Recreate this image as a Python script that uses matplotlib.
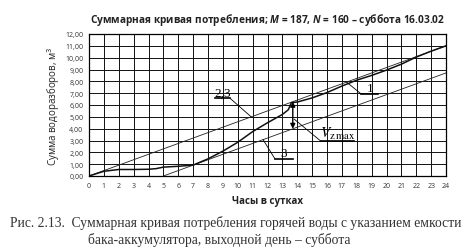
import matplotlib
matplotlib.use("Agg")
import matplotlib.pyplot as plt
import numpy as np

# hours of the day and cumulative draw-off, m3 (curve 1)
hours = [0, 1, 2, 3, 4, 4.5, 5, 6, 7, 8, 9, 10, 11, 12, 13, 13.4, 13.6,
         14, 15, 16, 17, 18, 19, 20, 21, 22, 23, 24]
total = [0, 0.4, 0.55, 0.55, 0.57, 0.62, 0.75, 0.82, 0.92, 1.45, 2.1, 2.85,
         3.75, 4.5, 5.2, 5.6, 6.2, 6.25, 6.6, 7.05, 7.6, 8.1, 8.5, 8.95, 9.45,
         10.05, 10.55, 11.0]

# straight supply lines 2,3 (through origin) and 3 (shifted)
line_x = [0, 24]
upper_y = [0, 11.0]
lower_x = [5, 24]
lower_y = [0, 8.71]

xticks = list(range(0, 25))
yticks = list(range(0, 13))
ytick_labels = ["%d,00" % v for v in yticks]

title_txt = "Суммарная кривая потребления; $\\mathit{M}$ = 187, $\\mathit{N}$ = 160 – суббота 16.03.02"
caption1 = "Рис. 2.13.  Суммарная кривая потребления горячей воды с указанием емкости"
caption2 = "бака-аккумулятора, выходной день – суббота"

plt.rcParams["font.family"] = ["Open Sans", "DejaVu Sans"]
plt.rcParams["mathtext.fontset"] = "custom"
plt.rcParams["mathtext.it"] = "Open Sans:italic:bold"

fig = plt.figure(figsize=(4.71, 2.53), dpi=100)
ax = fig.add_axes([89 / 471, 1 - 177 / 253, 357 / 471, 142 / 253])

ax.set_xlim(0, 24)
ax.set_ylim(0, 12)
ax.set_xticks(xticks)
ax.set_yticks(yticks)
ax.set_yticklabels(ytick_labels)
ax.tick_params(length=0, labelsize=5, colors="#333333", pad=4)
ax.grid(True, color="#111111", linewidth=0.7)
for s in ax.spines.values():
    s.set_linewidth(0.9)

ax.plot(line_x, upper_y, color="#222222", linewidth=0.6)
ax.plot(lower_x, lower_y, color="#222222", linewidth=0.6)
ax.plot(hours, total, color="#111111", linewidth=1.1)

# V_z max arrow between the two straight lines
ax.annotate("", xy=(13.7, 13.7 * 11 / 24), xytext=(13.7, (13.7 - 5) * 11 / 24),
            arrowprops=dict(arrowstyle="<|-|>", color="black", lw=1.0,
                            mutation_scale=7, shrinkA=0, shrinkB=0))

def label(txt, tx, ty, ux0, ux1, uy, px, py, lx):
    ax.text(tx, ty, txt, ha="center", va="bottom", fontsize=9.5,
            family="Liberation Serif")
    ax.plot([ux0, ux1], [uy, uy], color="black", linewidth=1.2)
    ax.plot([lx, px], [uy, py], color="black", linewidth=0.6)

label("2,3", 9.0, 6.55, 8.45, 9.5, 6.55, 10.9, 5.0, 9.5)
label("3", 13.1, 1.45, 12.5, 13.7, 1.45, 11.7, 3.08, 12.5)
label("1", 18.9, 6.95, 18.3, 19.45, 6.93, 17.3, 7.95, 18.3)
ax.text(16.7, 2.95, "$V_{\\mathrm{z\\,max}}$", ha="center", va="bottom",
        fontsize=11, math_fontfamily="stix")
ax.plot([15.6, 17.8], [2.93, 2.93], color="black", linewidth=1.2)
ax.plot([13.8, 15.6], [4.8, 2.93], color="black", linewidth=0.6)

ax.set_title(title_txt, fontsize=7.3, fontweight="bold", color="#222222", pad=9)
ax.set_xlabel("Часы в сутках", fontsize=7, fontweight="bold", color="#222222",
              labelpad=5)
ax.set_ylabel("Сумма водоразборов, м$^3$", fontsize=7, color="#222222",
              labelpad=2)

fig.text(10 / 471, 1 - 223 / 253, caption1, fontsize=9.8, family="Liberation Serif",
         color="#333333", va="center")
fig.text(88 / 471, 1 - 240 / 253, caption2, fontsize=9.8, family="Liberation Serif",
         color="#333333", va="center")

fig.savefig("out.png", dpi=100)
